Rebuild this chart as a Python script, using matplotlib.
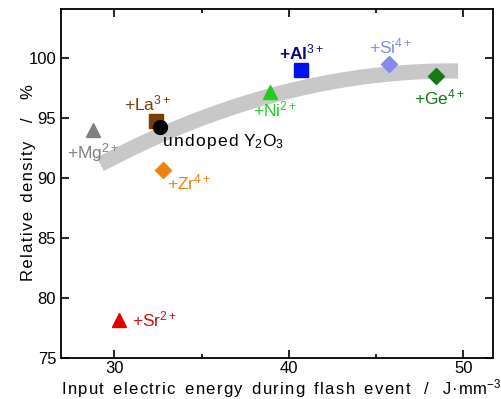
import numpy as np
import matplotlib
matplotlib.use("Agg")
import matplotlib.pyplot as plt
from matplotlib.ticker import MultipleLocator

plt.rcParams['font.family'] = ['Liberation Sans', 'DejaVu Sans']
plt.rcParams['mathtext.fontset'] = 'custom'
plt.rcParams['mathtext.rm'] = 'Liberation Sans'
plt.rcParams['mathtext.it'] = 'Liberation Sans'
plt.rcParams['mathtext.bf'] = 'Liberation Sans:bold'

# data
labels = ['+Mg$^{2+}$', '+La$^{3+}$', 'undoped Y$_2$O$_3$', '+Zr$^{4+}$', '+Ni$^{2+}$',
          '+Al$^{3+}$', '+Si$^{4+}$', '+Ge$^{4+}$', '+Sr$^{2+}$']
energy = [28.8, 32.4, 32.6, 32.8, 38.9, 40.7, 45.75, 48.45, 30.25]
density = [94.0, 94.8, 94.3, 90.7, 97.2, 99.0, 99.5, 98.5, 78.2]
markers = ['^', 's', 'o', 'D', '^', 's', 'D', 'D', '^']
colors = ['#808080', '#7a3d06', '#000000', '#f08010', '#22cc22', '#0010f0', '#8888ee', '#157a15', '#e00000']
label_colors = ['#808080', '#7a3d06', '#000000', '#f08010', '#22cc22', '#0a0a80', '#8888ee', '#157a15', '#cc1010']

# trend band (guide)
band_x = [29.2, 32.6, 38.9, 45.75, 49.7]
band_y = [91.0, 93.8, 96.75, 98.6, 99.0]

HS = '\u200a'


def spaced(s):
    return HS.join(s)


fig = plt.figure(figsize=(5.01, 3.99), dpi=100)
ax = fig.add_axes([61/501, 1-358/399, (493-61)/501, (358-9)/399])

coef = np.polyfit(band_x, band_y, 2)
xs = np.linspace(band_x[0], band_x[-1], 100)
ax.plot(xs, np.polyval(coef, xs), color='#c8c8c8', lw=11, solid_capstyle='butt', zorder=1)

for x, y, m, c in zip(energy, density, markers, colors):
    ms = 8.5 if m == 'D' else 10
    ax.plot(x, y, marker=m, color=c, markersize=ms, linestyle='none', zorder=3)

# label offsets in points (dx, dy) and alignment
offsets = [(0, -16, 'center'), (-6, 12, 'center'), (2, -11, 'left'), (3, -9, 'left'),
           (4, -13, 'center'), (0, 13, 'center'), (1, 13, 'center'), (2, -15, 'center'),
           (10, 0, 'left')]
for lab, x, y, c, (dx, dy, ha) in zip(labels, energy, density, label_colors, offsets):
    weight = 'bold' if 'Al' in lab else 'normal'
    if lab.startswith('undoped'):
        lab = spaced('undoped') + ' ' + 'Y$_2$O$_3$'
    ax.annotate(lab, (x, y), xytext=(dx, dy), textcoords='offset points', ha=ha, va='center',
                color=c, fontsize=12.5, fontweight=weight, zorder=4)

ax.set_xlim(26.95, 51.7)
ax.set_ylim(75, 104.1)
ax.xaxis.set_major_locator(MultipleLocator(10))
ax.xaxis.set_minor_locator(MultipleLocator(5))
ax.set_yticks([75, 80, 85, 90, 95, 100])
ax.tick_params(which='both', direction='in', top=True, right=True, labelsize=12, width=1.2)
ax.tick_params(which='major', length=6)
ax.tick_params(which='minor', length=3)
ax.tick_params(axis='x', which='major', pad=2)
for sp in ax.spines.values():
    sp.set_linewidth(1.3)

xlab = spaced('Input') + '  ' + spaced('electric') + '  ' + spaced('energy') + '  ' + \
    spaced('during') + '  ' + spaced('flash') + '  ' + spaced('event') + '   /   ' + 'J' + HS + '·' + HS + 'mm$^{-3}$'
fig.text(61/501, 1-394.5/399, xlab, fontsize=12, ha='left', va='baseline')
ylab = spaced('Relative') + '  ' + spaced('density') + '    /    %'
fig.text(33/501, 1-183/399, ylab, fontsize=12, ha='center', va='baseline', rotation=90,
         rotation_mode='anchor')

fig.savefig('out.png', dpi=100)
